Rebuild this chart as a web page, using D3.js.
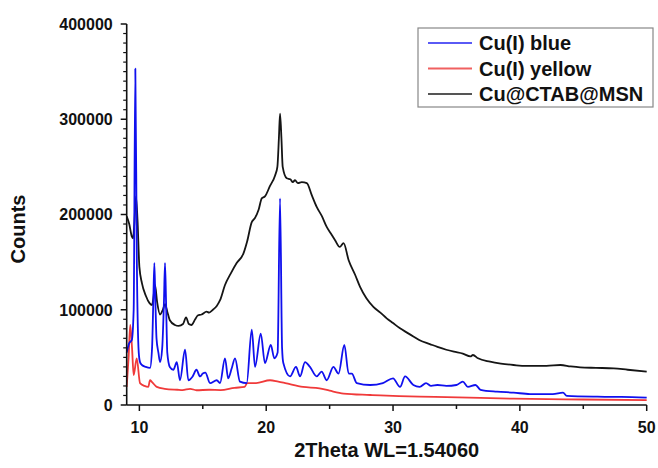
<!DOCTYPE html>
<html><head><meta charset="utf-8">
<script src="https://cdn.jsdelivr.net/npm/d3@7"></script>
<style>body{margin:0;background:#fff}svg{display:block}text{font-family:"Liberation Sans",Arial,sans-serif;font-weight:bold}</style>
</head><body>
<svg id="c" width="658" height="468"></svg>
<script>
const seriesNames = ["Cu(I) blue", "Cu(I) yellow", "Cu@CTAB@MSN"];
const xTicks = [10, 20, 30, 40, 50];
const yTicks = [0, 100000, 200000, 300000, 400000];

const blackX = [9.0,9.2,9.4,9.5,9.6,9.73,9.85,10.0,10.2,10.5,10.8,11.0,11.1,11.23,11.4,11.63,11.85,12.02,12.2,12.4,12.8,13.1,13.44,13.68,13.9,14.1,14.4,14.6,14.9,15.3,15.5,15.8,16.1,16.36,16.75,17.2,17.67,18.2,18.5,18.86,19.1,19.4,19.65,19.9,20.3,20.7,20.88,21.0,21.09,21.2,21.3,21.62,21.9,22.1,22.27,22.5,22.8,23.2,23.6,23.98,24.4,24.77,25.1,25.43,25.8,26.1,26.5,27.0,27.4,27.9,28.45,29.0,29.5,30.0,30.55,31.1,31.6,32.1,32.9,33.5,34.2,34.8,35.5,36.1,36.3,36.7,37.65,38.5,39.5,40.5,41.5,42.1,43.2,44.0,44.75,46.0,47.4,48.5,50.0];
const blackY = [198000,190000,177000,175000,190000,219000,195000,145000,128000,115000,107000,105000,112000,126000,108000,95000,100000,106000,98000,89000,84000,83000,85000,92000,85000,84000,90000,94000,95000,98000,97000,100000,104000,110000,126000,138000,149000,159000,172000,192000,196000,205000,217000,219000,230000,241000,250000,280000,306000,280000,250000,238000,237000,234000,236000,233000,234000,233000,220000,208000,198000,187000,180000,173000,166000,170000,152000,137000,124000,112000,103000,97000,91000,86000,80500,76000,72000,68000,64000,61000,58000,56000,54000,51000,52500,49000,45500,43500,42000,41000,41000,41000,42000,40500,39500,39000,38500,37000,35000];

const blueX = [9.0,9.2,9.4,9.55,9.68,9.8,9.95,10.05,10.2,10.5,10.84,11.0,11.1,11.18,11.26,11.35,11.5,11.63,11.8,11.94,12.02,12.1,12.2,12.4,12.68,12.95,13.2,13.6,13.86,14.2,14.5,14.78,15.0,15.2,15.57,16.1,16.36,16.75,17.0,17.28,17.54,17.93,18.46,18.86,19.12,19.57,19.9,20.36,20.64,20.9,21.09,21.25,21.35,21.88,22.35,22.67,23.06,23.45,23.98,24.37,24.77,25.3,25.7,26.16,26.5,26.75,27.14,28.2,29.2,30.0,30.55,30.95,31.6,32.1,32.6,33.0,33.5,34.2,35.0,35.5,35.9,36.5,36.9,38.2,39.5,40.8,42.6,43.4,43.7,46.1,48.0,50.0];
const blueY = [55000,65000,68000,100000,353000,150000,55000,45000,42000,40000,39000,60000,110000,149000,110000,70000,55000,45000,60000,110000,149000,110000,55000,40000,37000,45000,26000,58000,26000,30000,37000,30000,33000,34000,23000,26000,23000,49000,28000,38500,49000,24500,23000,79000,40000,75000,44000,63000,49000,55000,217000,60000,44000,30000,40000,30000,45000,40000,30000,35000,26000,40000,33000,63000,33000,33000,23000,21000,23000,28000,19000,30000,21000,19000,23000,20000,21000,20000,21000,24500,19000,21000,16000,14000,13000,11500,11500,13000,9500,8700,8500,7700];

const redX = [9.0,9.15,9.28,9.42,9.55,9.79,10.05,10.4,10.7,10.84,11.0,11.37,12.0,13.0,13.4,14.0,14.5,15.5,16.4,17.5,18.3,18.5,19.2,20.3,20.95,21.5,22.9,24.2,25.0,26.1,28.2,29.0,32.1,34.2,39.5,45.0,50.0];
const redY = [19000,50000,84000,60000,31500,49000,23000,20000,19000,26000,24000,19000,17000,16000,15700,17000,15500,16000,15700,18000,19000,23000,23000,26000,24500,23000,19000,17500,15000,12000,10500,10000,8700,8300,6600,5800,5200];

const colors = ["#1010ee", "#f03a3a", "#151515"];
const legendColors = ["#5a5af5", "#f06060", "#555555"];

const svg = d3.select("#c");
const x = d3.scaleLinear().domain([9, 50]).range([126.7, 646.7]);
const y = d3.scaleLinear().domain([0, 400000]).range([405, 24]);

function zip(xs, ys){ return xs.map((v,i)=>[v, ys[i]]); }
const data = [zip(blueX, blueY), zip(redX, redY), zip(blackX, blackY)];

const line = d3.line().x(d=>x(d[0])).y(d=>y(d[1])).curve(d3.curveMonotoneX);
[2,1,0].forEach(i=>{
  svg.append("path").datum(data[i]).attr("d", line)
    .attr("fill","none").attr("stroke", colors[i]).attr("stroke-width",1.8)
    .attr("stroke-linejoin","round");
});

// X axis
const xAxis = svg.append("g").attr("transform","translate(0,405)");
xAxis.append("line").attr("x1",126.7).attr("x2",646.7).attr("stroke","#111").attr("stroke-width",1.6);
const xMinor = d3.range(15, 50, 10);
xAxis.selectAll(".mj").data(xTicks).enter().append("line")
  .attr("x1",d=>x(d)).attr("x2",d=>x(d)).attr("y1",0).attr("y2",6).attr("stroke","#111").attr("stroke-width",1.5);
xAxis.selectAll(".mn").data(xMinor).enter().append("line")
  .attr("x1",d=>x(d)).attr("x2",d=>x(d)).attr("y1",0).attr("y2",4).attr("stroke","#111").attr("stroke-width",1.5);
xAxis.selectAll(".lb").data(xTicks).enter().append("text")
  .attr("x",d=>x(d)).attr("y",28).attr("text-anchor","middle").attr("font-size",16).attr("fill","#111").text(d=>d);

// Y axis
const yAxis = svg.append("g").attr("transform","translate(126.7,0)");
yAxis.append("line").attr("y1",405).attr("y2",24).attr("stroke","#111").attr("stroke-width",1.6);
const yMinor = d3.range(0, 400001, 10000).filter(v=>v%100000!==0);
yAxis.selectAll(".mj").data(yTicks).enter().append("line")
  .attr("y1",d=>y(d)).attr("y2",d=>y(d)).attr("x1",0).attr("x2",-6).attr("stroke","#111").attr("stroke-width",1.5);
yAxis.selectAll(".mn").data(yMinor).enter().append("line")
  .attr("y1",d=>y(d)).attr("y2",d=>y(d)).attr("x1",0).attr("x2",-3.5).attr("stroke","#111").attr("stroke-width",1.2);
yAxis.selectAll(".lb").data(yTicks).enter().append("text")
  .attr("x",-14).attr("y",d=>y(d)).attr("dy","0.36em").attr("text-anchor","end").attr("font-size",16).attr("fill","#111").text(d=>d);

// Axis titles
svg.append("text").attr("x",386.7).attr("y",457).attr("text-anchor","middle").attr("font-size",20).attr("fill","#111").text("2Theta WL=1.54060");
svg.append("text").attr("transform","translate(25,229) rotate(-90)").attr("text-anchor","middle").attr("font-size",20).attr("fill","#111").text("Counts");

// Legend
const lg = svg.append("g");
lg.append("rect").attr("x",418).attr("y",28).attr("width",235).attr("height",79).attr("fill","#fff").attr("stroke","#888").attr("stroke-width",1.2);
const ly = [43, 68.5, 94];
seriesNames.forEach((n,i)=>{
  lg.append("line").attr("x1",428).attr("x2",472).attr("y1",ly[i]).attr("y2",ly[i]).attr("stroke",legendColors[i]).attr("stroke-width",2);
  lg.append("text").attr("x",479).attr("y",ly[i]+7).attr("font-size",20).attr("fill","#111").text(n);
});
</script>
</body></html>
